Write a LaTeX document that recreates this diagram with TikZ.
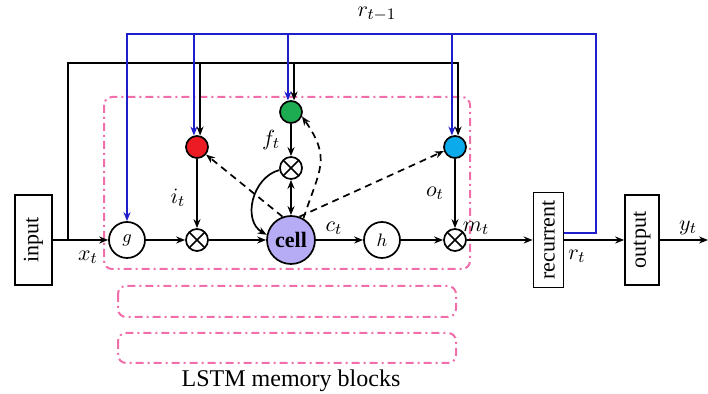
\documentclass[tikz,border=0pt]{standalone}
\usepackage{fontspec}
\setmainfont{Liberation Serif}
\usepackage{graphicx}
\usetikzlibrary{arrows.meta}

\definecolor{gatered}{RGB}{237,28,36}
\definecolor{gategreen}{RGB}{30,172,82}
\definecolor{gateblue}{RGB}{10,170,235}
\definecolor{cellfill}{RGB}{182,172,245}
\definecolor{recblue}{RGB}{30,30,205}
\definecolor{blockpink}{RGB}{240,110,170}

\begin{document}
\begin{tikzpicture}[x=0.5pt, y=-0.5pt, line width=0.85pt,
    font=\fontsize{11}{13}\selectfont,
    >={Stealth[length=4.5pt,width=3.5pt]},
    iobox/.style={draw, minimum width=18.5pt, minimum height=45pt, inner sep=0pt},
    act/.style={draw, circle, minimum size=18pt, inner sep=0pt, font=\fontsize{9}{10}\selectfont},
    gate/.style={draw, circle, minimum size=11pt, inner sep=0pt},
    mult/.style={draw, circle, minimum size=11pt, inner sep=0pt,
        path picture={\draw (path picture bounding box.north west) -- (path picture bounding box.south east)
                            (path picture bounding box.north east) -- (path picture bounding box.south west);}},
    block/.style={blockpink, line width=1pt, rounded corners=4pt,
        dash pattern=on 4pt off 2pt on 1pt off 2pt},
    feed/.style={recblue, line width=1pt},
    peep/.style={dashed, dash pattern=on 3.5pt off 2.5pt}]
    \useasboundingbox (0,0) rectangle (708,394);

    % Memory blocks
    \draw[block] (104,97) rectangle (470,269);
    \draw[block] (118,286) rectangle (456,317);
    \draw[block] (118,333) rectangle (456,363);
    \node (lstm) at (291,381) {\fontsize{12}{14}\selectfont LSTM memory blocks};

    % Input, recurrent and output layers
    \node[iobox] (input) at (33.5,240) {\rotatebox{90}{input}};
    \node[iobox, minimum width=15pt, minimum height=47.5pt] (rec) at (548.5,240) {\rotatebox{90}{recurrent}};
    \node[iobox, minimum width=17pt] (out) at (642,240) {\rotatebox{90}{output}};

    % Units of the block
    \node[act] (g) at (127,240) {$g$};
    \node[mult] (mi) at (197,240) {};
    \node[draw, circle, fill=cellfill, minimum size=24pt, inner sep=0pt] (cell) at (291,240) {\textbf{cell}};
    \node[act] (h) at (382,240) {$h$};
    \node[mult] (mo) at (455,240) {};
    \node[mult] (mf) at (291,168) {};

    % Gates
    \node[gate, fill=gatered] (gi) at (197,147) {};
    \node[gate, fill=gategreen] (gf) at (291,112) {};
    \node[gate, fill=gateblue] (go) at (455,147) {};

    % Main flow
    \coordinate (branch) at (68,240);
    \coordinate (yend) at (708,240);
    \draw[->] (input) -- (g);
    \draw[->] (g) -- (mi);
    \draw[->] (mi) -- (cell);
    \draw[->] (cell) -- (h);
    \draw[->] (h) -- (mo);
    \draw[->] (mo) -- (rec);
    \draw[->] (rec) -- (out);
    \draw[->] (out) -- (yend);

    % Gate outputs
    \draw[->] (gi) -- (mi);
    \draw[->] (gf) -- (mf);
    \draw[->] (go) -- (mo);
    \draw[<->] (mf) -- (cell);
    \draw[->] (mf.190) to[out=195, in=150, looseness=1.1] (cell.168);

    % Input x_t to the gates
    \coordinate (blk) at (68,63);
    \draw[->] (branch) |- (go.75 |- blk) -- (go.75);
    \draw[->] (gi.75 |- blk) -- (gi.75);
    \draw[->] (gf.75 |- blk) -- (gf.75);

    % Recurrent feedback r_{t-1}
    \coordinate (rfb) at (596,233);
    \coordinate (rtop) at (596,34);
    \draw[feed, ->] (rec.east |- rfb) -- (rfb) -- (rtop) -| (g.north);
    \draw[feed, ->] (gi.105 |- rtop) -- (gi.105);
    \draw[feed, ->] (gf.105 |- rtop) -- (gf.105);
    \draw[feed, ->] (go.105 |- rtop) -- (go.105);

    % Peepholes
    \draw[peep, ->] (cell.110) -- (gi.-40);
    \draw[peep, ->] (cell.70) -- (go.200);
    \draw[peep, ->] (cell.60) to[out=72, in=-55, looseness=1.3] (gf.-22);

    % Labels
    \node (xt) at (88,257) {$x_t$};
    \node (it) at (178,198) {$i_t$};
    \node (ft) at (271,140) {$f_t$};
    \node (ot) at (435,193) {$o_t$};
    \node (ct) at (334,228) {$c_t$};
    \node (mt) at (476,228) {$m_t$};
    \node (rt) at (577,256) {$r_t$};
    \node (yt) at (688,228) {$y_t$};
    \node (rt1) at (377,14) {$r_{t-1}$};

\end{tikzpicture}
\end{document}
